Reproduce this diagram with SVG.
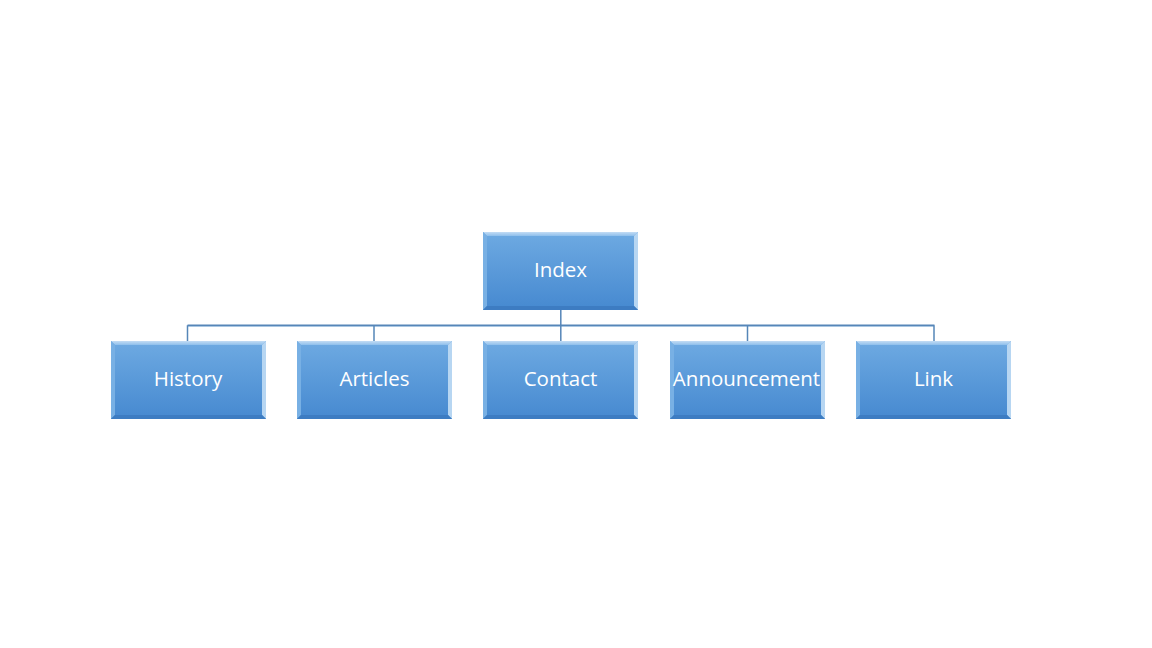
<svg xmlns="http://www.w3.org/2000/svg" width="1152" height="648" viewBox="0 0 1152 648">
<defs>
<linearGradient id="fill" x1="0" y1="0" x2="0" y2="1">
<stop offset="0" stop-color="#6eaae2"/>
<stop offset="1" stop-color="#4689d0"/>
</linearGradient>
<linearGradient id="topb" x1="0" y1="0" x2="0" y2="1">
<stop offset="0" stop-color="#c3dcf4"/>
<stop offset="1" stop-color="#8ebfec"/>
</linearGradient>
<g id="box">
<rect x="0" y="0" width="155" height="78" fill="url(#fill)"/>
<polygon points="0,0 155,0 151,4 4,4" fill="url(#topb)"/>
<polygon points="155,0 155,78 151,74 151,4" fill="#b7d6f2"/>
<polygon points="0,0 4,4 4,74 0,78" fill="#78b0e4"/>
<polygon points="0,78 4,74 151,74 155,78" fill="#3d7cc2"/>
</g>
</defs>
<style>
.lbl{font-family:"Open Sans","Noto Sans",sans-serif;font-size:20.5px;fill:#ffffff;text-anchor:middle}
.ln{stroke:#5686b8;stroke-width:1.5;fill:none}
.hl{stroke:#a9c6e2;stroke-width:1;fill:none}
</style>
<rect width="1152" height="648" fill="#ffffff"/>
<g id="connectors">
<path class="hl" d="M188,326.5 H934"/>
<path class="ln" d="M560.8,310 V325.2 M187.5,325.2 H934.5 M187.5,325.2 V341 M374,325.2 V341 M560.8,325.2 V341 M747.5,325.2 V341 M934,325.2 V341"/>
</g>
<g id="node-index"><use href="#box" x="483" y="232"/><text class="lbl" x="560.5" y="277">Index</text></g>
<g id="node-history"><use href="#box" x="111" y="341"/><text class="lbl" x="188" y="386">History</text></g>
<g id="node-articles"><use href="#box" x="297" y="341"/><text class="lbl" x="374.5" y="386">Articles</text></g>
<g id="node-contact"><use href="#box" x="483" y="341"/><text class="lbl" x="560.5" y="386">Contact</text></g>
<g id="node-announcement"><use href="#box" x="670" y="341"/><text class="lbl" x="746.5" y="386">Announcement</text></g>
<g id="node-link"><use href="#box" x="856" y="341"/><text class="lbl" x="933.5" y="386">Link</text></g>
</svg>
